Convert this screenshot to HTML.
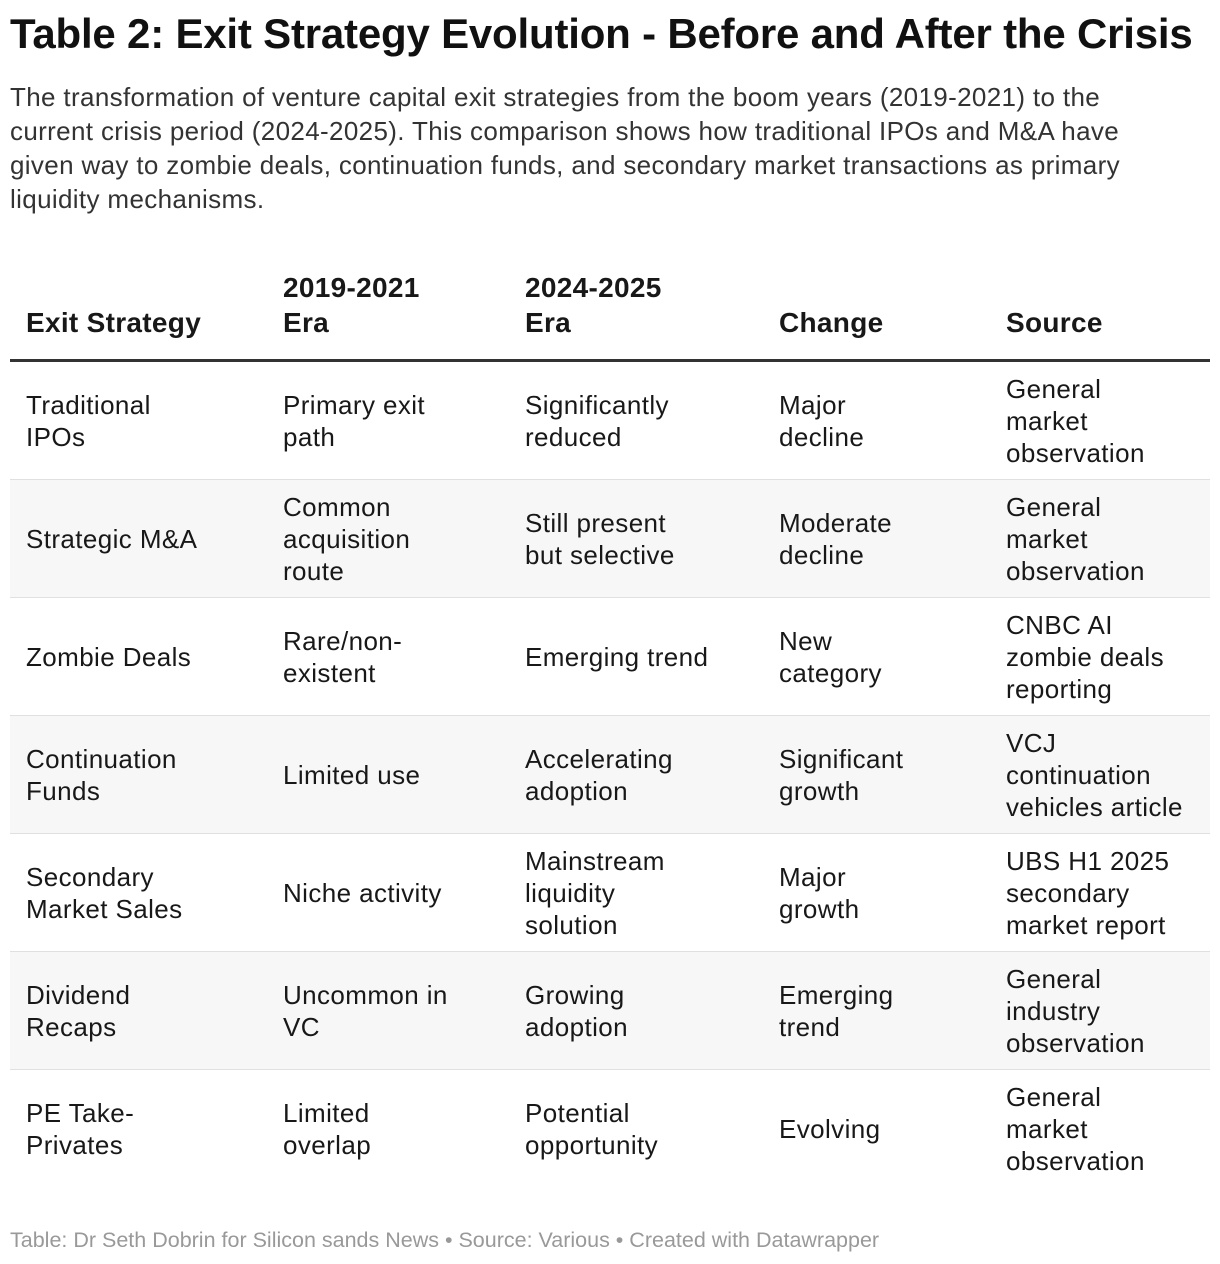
<!DOCTYPE html>
<html><head><meta charset="utf-8"><style>
body{margin:0;width:1220px;height:1264px;background:#fff;font-family:"Liberation Sans",Arial,sans-serif;color:#181818;overflow:hidden;position:relative}
h1{position:absolute;left:10px;top:10px;margin:0;font-size:42px;font-weight:bold;letter-spacing:-0.2px;white-space:nowrap;color:#111}
.desc{position:absolute;left:10px;top:80px;width:1200px;font-size:26px;letter-spacing:0.35px;line-height:34px;color:#333;white-space:nowrap}
table{position:absolute;left:10px;top:270px;width:1200px;border-collapse:collapse;font-size:26px;letter-spacing:0.4px;line-height:32px}
th{text-align:left;vertical-align:bottom;font-weight:bold;padding:0 0 19px 16px;border-bottom:3px solid #333;white-space:nowrap;font-size:28px;letter-spacing:0.3px;line-height:35px}
td{padding:0 0 0 16px;height:117px;vertical-align:middle;border-bottom:1px solid #e0e0e0;white-space:nowrap}
tr.alt td{background:#f7f7f7}
.foot{position:absolute;left:10px;top:1228px;font-size:21.5px;color:#999;white-space:nowrap}
</style></head><body>
<h1>Table 2: Exit Strategy Evolution - Before and After the Crisis</h1>
<div class="desc">The transformation of venture capital exit strategies from the boom years (2019-2021) to the<br>current crisis period (2024-2025). This comparison shows how traditional IPOs and M&amp;A have<br>given way to zombie deals, continuation funds, and secondary market transactions as primary<br>liquidity mechanisms.</div>
<table>
<colgroup><col style="width:257px"><col style="width:242px"><col style="width:254px"><col style="width:227px"><col style="width:220px"></colgroup>
<thead><tr>
<th>Exit Strategy</th>
<th>2019-2021<br>Era</th>
<th>2024-2025<br>Era</th>
<th>Change</th>
<th>Source</th></tr></thead>
<tbody>
<tr><td>Traditional<br>IPOs</td><td>Primary exit<br>path</td><td>Significantly<br>reduced</td><td>Major<br>decline</td><td>General<br>market<br>observation</td></tr>
<tr class="alt"><td>Strategic M&amp;A</td><td>Common<br>acquisition<br>route</td><td>Still present<br>but selective</td><td>Moderate<br>decline</td><td>General<br>market<br>observation</td></tr>
<tr><td>Zombie Deals</td><td>Rare/non-<br>existent</td><td>Emerging trend</td><td>New<br>category</td><td>CNBC AI<br>zombie deals<br>reporting</td></tr>
<tr class="alt"><td>Continuation<br>Funds</td><td>Limited use</td><td>Accelerating<br>adoption</td><td>Significant<br>growth</td><td>VCJ<br>continuation<br>vehicles article</td></tr>
<tr><td>Secondary<br>Market Sales</td><td>Niche activity</td><td>Mainstream<br>liquidity<br>solution</td><td>Major<br>growth</td><td>UBS H1 2025<br>secondary<br>market report</td></tr>
<tr class="alt"><td>Dividend<br>Recaps</td><td>Uncommon in<br>VC</td><td>Growing<br>adoption</td><td>Emerging<br>trend</td><td>General<br>industry<br>observation</td></tr>
<tr><td style="border-bottom:none">PE Take-<br>Privates</td><td style="border-bottom:none">Limited<br>overlap</td><td style="border-bottom:none">Potential<br>opportunity</td><td style="border-bottom:none">Evolving</td><td style="border-bottom:none">General<br>market<br>observation</td></tr>
</tbody></table>
<div class="foot">Table: Dr Seth Dobrin for Silicon sands News • Source: Various • Created with Datawrapper</div>
</body></html>
